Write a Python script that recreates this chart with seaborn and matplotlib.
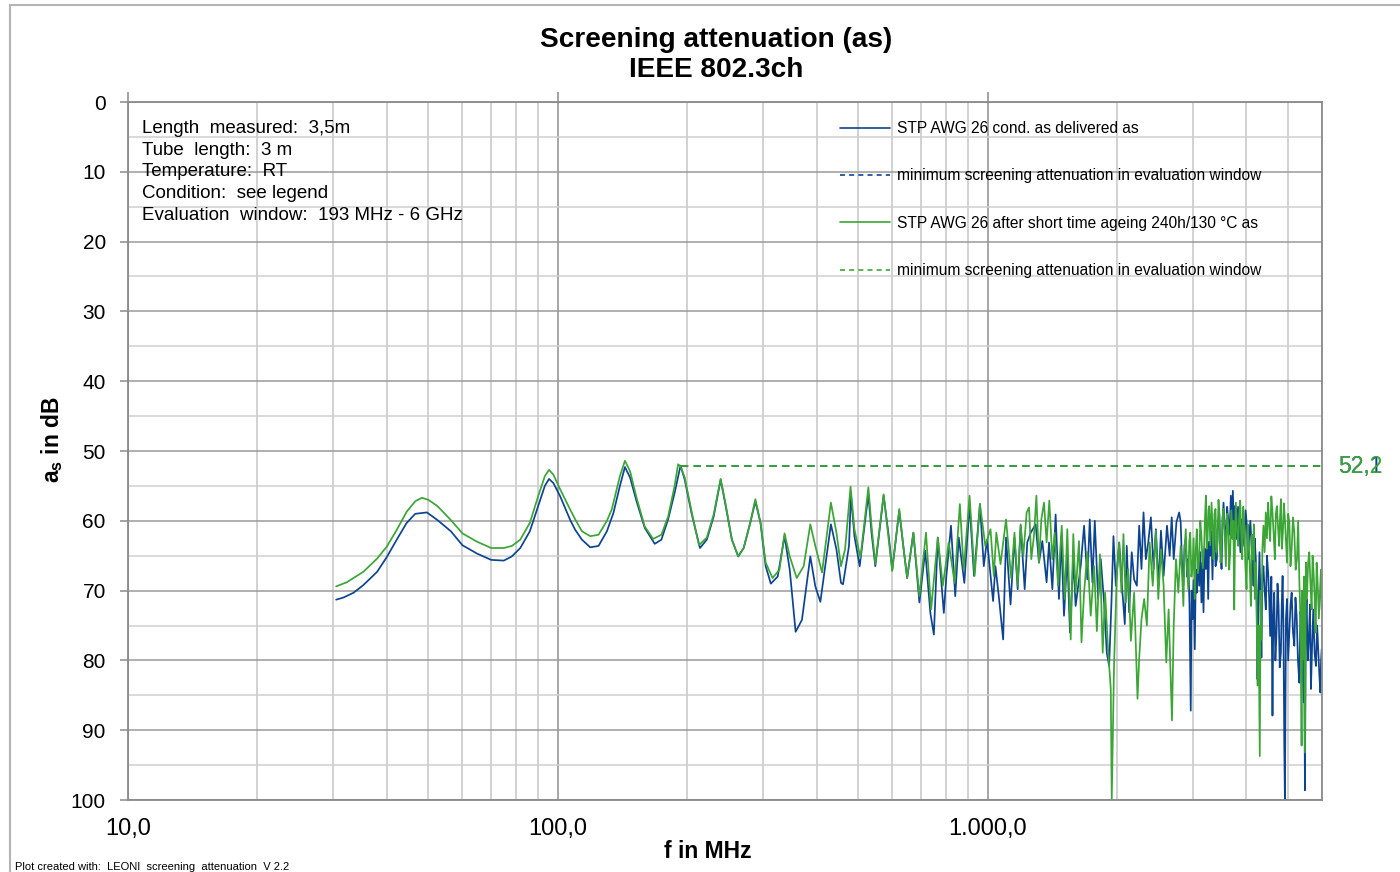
import matplotlib
matplotlib.use("Agg")
import matplotlib.pyplot as plt
from matplotlib import font_manager
from matplotlib.lines import Line2D
from matplotlib.patches import Rectangle
from matplotlib.ticker import FixedLocator, FuncFormatter, NullFormatter
import matplotlib.transforms as mtransforms
import pandas as pd
import seaborn as sns

# ---------------------------------------------------------------- data
TITLE = "Screening attenuation (as)\nIEEE 802.3ch"
X_LABEL = "f in MHz"
INFO_LINES = [
    "Length  measured:  3,5m",
    "Tube  length:  3 m",
    "Temperature:  RT",
    "Condition:  see legend",
    "Evaluation  window:  193 MHz - 6 GHz",
]
FOOTER = "Plot created with:  LEONI  screening  attenuation  V 2.2"

SERIES = ["STP AWG 26 cond. as delivered as",
          "STP AWG 26 after short time ageing 240h/130 °C as"]
MIN_LABEL = "minimum screening attenuation in evaluation window"

EVAL_WINDOW = [193.0, 6000.0]          # MHz
BLUE_MIN = 52.1                        # dB, delivered
GREEN_MIN = 52.2                       # dB, aged

X_MAJOR = [10, 100, 1000]
X_MINOR = [20, 30, 40, 50, 60, 70, 80, 90,
           200, 300, 400, 500, 600, 700, 800, 900,
           2000, 3000, 4000, 5000, 6000]
Y_MAJOR = [0, 10, 20, 30, 40, 50, 60, 70, 80, 90, 100]
Y_MINOR = [5, 15, 25, 35, 45, 55, 65, 75, 85, 95]

# as delivered: frequency (MHz) / screening attenuation (dB)
BLUE_F = [
    30.5, 31.7, 33.5, 35.3, 38.0, 40.0, 42.2, 44.5, 46.6, 49.6,
    52.5, 56.4, 60.0, 64.9, 70.0, 74.9, 78.2, 81.8, 86.1, 90.0,
    93.3, 95.4, 97.7, 101.3, 106.9, 109.8, 113.8, 119.0, 124.4, 130.1,
    134.7, 139.5, 143.3, 147.3, 152.5, 159.3, 168.1, 174.2, 180.6, 187.0,
    193.0, 197.4, 204.7, 214.2, 222.2, 230.5, 239.3, 245.9, 254.1, 262.9,
    270.7, 280.4, 288.2, 296.3, 304.6, 313.1, 324.8, 337.0, 346.5, 357.6,
    369.9, 386.9, 397.4, 408.3, 432, 445, 456, 461, 476, 481,
    490, 504, 528, 537, 548, 573, 589, 600, 623, 638,
    650, 672, 694, 716, 736, 750, 766, 791, 802, 822,
    841, 857, 883, 908, 930, 960, 980, 997, 1030, 1043,
    1062, 1087, 1104, 1131, 1155, 1175, 1194, 1220, 1237, 1260,
    1294, 1317, 1341, 1372, 1390, 1415, 1440, 1466, 1484, 1506,
    1533, 1555, 1583, 1603, 1647, 1677, 1707, 1729, 1754, 1776,
    1808, 1834, 1867, 1894, 1918, 1942, 1963, 1988, 2024, 2060,
    2086, 2108, 2135, 2165, 2193, 2225, 2253, 2281, 2306, 2335,
    2365, 2399, 2434, 2464, 2500, 2532, 2568, 2615, 2653, 2682,
    2711, 2751, 2791,
    2814, 2834, 2855, 2873, 2892, 2911, 2930, 2950, 2970, 2984,
    2997, 3016, 3035, 3052, 3068, 3088, 3107, 3126, 3145, 3162,
    3180, 3200, 3221, 3241, 3261, 3278, 3296, 3316, 3337, 3352,
    3367, 3392, 3416, 3438, 3459, 3481, 3503, 3522, 3540, 3562,
    3585, 3608, 3631, 3656, 3682, 3702, 3722, 3742, 3762, 3782,
    3802, 3826, 3851, 3875, 3899, 3927, 3955, 3984, 4012, 4037,
    4062, 4088, 4113, 4135, 4157, 4183, 4209, 4228, 4246, 4270,
    4292, 4315, 4337, 4360, 4384, 4412, 4440, 4468, 4496, 4520,
    4545, 4574, 4602, 4622, 4644, 4674, 4703, 4728, 4754, 4784,
    4814, 4836, 4858, 4880, 4902, 4919, 4946, 4974, 5005, 5037,
    5068, 5100, 5136, 5173, 5205, 5238, 5275, 5313, 5346, 5379,
    5408, 5437, 5456, 5476, 5500, 5525, 5560, 5594, 5625, 5655,
    5690, 5726, 5768, 5809, 5846, 5883, 5915, 5947, 5970, 5990,
]
BLUE_DB = [
    71.3, 71.0, 70.3, 69.2, 67.3, 65.2, 62.7, 60.3, 59.0, 58.8,
    59.9, 61.5, 63.5, 64.7, 65.6, 65.7, 65.1, 63.9, 61.5, 57.9,
    55.0, 54.0, 54.6, 56.5, 59.9, 61.3, 62.7, 63.8, 63.6, 61.5,
    58.9, 55.0, 52.3, 53.8, 57.2, 61.0, 63.3, 62.7, 59.8, 56.0,
    52.1, 54.1, 58.9, 63.9, 62.7, 59.4, 54.1, 57.9, 62.7, 65.1,
    63.9, 60.3, 57.2, 60.3, 66.5, 69.0, 68.0, 62.2, 67.0, 75.9,
    74.2, 65.1, 69.4, 71.6, 60.5, 64.1, 68.9, 69.1, 63.6, 56.2,
    62.2, 66.5, 56.2, 61.7, 66.5, 56.4, 62.2, 67.0, 58.6, 64.1,
    68.2, 61.7, 71.7, 64.3, 73.2, 76.3, 62.4, 73.2, 67.9, 60.7,
    70.8, 62.4, 68.9, 57.6, 67.9, 57.6, 66.5, 62.7, 71.5, 66.5,
    70.8, 77.0, 62.4, 72.0, 62.4, 69.8, 60.7, 69.8, 63.1, 61.7,
    60.5, 66.0, 62.9, 68.8, 63.1, 69.8, 59.1, 71.2, 62.2, 73.6,
    65.0, 76.0, 65.5, 72.2, 66.5, 60.7, 68.4, 59.8, 68.8, 60.0,
    71.2, 65.5, 71.7, 78.9, 80.8, 71.7, 62.2, 69.3, 63.1, 70.3,
    74.8, 63.6, 73.1, 64.5, 68.4, 69.3, 60.7, 66.9, 58.8, 65.5,
    63.1, 59.5, 66.9, 61.2, 69.3, 61.4, 67.9, 60.7, 65.0, 59.5,
    65.5, 60.2, 58.8,
    60.2, 66.0, 69.3, 63.5, 62.6, 68.0, 65.5, 72.0, 87.2, 70.0,
    74.1, 68.5, 78.4, 67.0, 70.3, 65.0, 69.3, 64.5, 71.7, 66.0,
    73.1, 64.0, 66.9, 62.5, 71.2, 63.0, 65.0, 61.5, 68.4, 63.0,
    60.7, 66.5, 65.5, 60.0, 58.8, 64.0, 66.9, 60.0, 57.4, 61.0,
    63.1, 58.0, 59.8, 62.0, 56.4, 60.5, 55.7, 61.0, 57.9, 60.0,
    62.6, 58.0, 60.7, 64.5, 59.8, 61.5, 63.6, 58.5, 60.7, 65.5,
    62.2, 60.0, 63.6, 66.0, 69.3, 62.5, 65.5, 72.0, 82.7, 70.0,
    64.5, 71.0, 79.6, 68.0, 66.5, 70.0, 72.7, 65.0, 67.4, 71.0,
    76.5, 68.0, 87.9, 74.0, 70.3, 80.0, 76.0, 69.0, 72.2, 81.0,
    78.9, 72.0, 67.9, 75.0, 92.2, 100.0, 74.0, 71.2, 80.0, 76.0,
    72.0, 70.3, 76.0, 77.9, 71.0, 73.6, 80.0, 83.2, 73.0, 76.0,
    81.0, 86.0, 80.0, 98.6, 75.0, 71.2, 80.0, 76.5, 72.0, 84.1,
    78.0, 72.7, 79.0, 80.8, 75.0, 78.9, 82.0, 84.6, 80.0, 78.4,
]

# after ageing: frequency (MHz) / screening attenuation (dB)
GREEN_F = [
    30.5, 32.3, 35.3, 38.0, 40.0, 42.2, 44.5, 46.6, 48.3, 50.0,
    52.5, 56.4, 60.0, 64.9, 70.0, 74.9, 78.2, 81.8, 86.1, 90.0,
    93.3, 95.4, 97.7, 101.3, 106.9, 109.8, 113.8, 119.0, 124.4, 130.1,
    133.5, 139.5, 143.3, 147.3, 152.5, 159.3, 166.6, 174.2, 180.6, 187.0,
    190.5, 193.0, 197.4, 204.7, 213.0, 222.2, 230.5, 239.3, 245.9, 254.1,
    262.9, 270.7, 280.4, 288.2, 296.3, 304.6, 316.0, 328.0, 337.0, 346.5,
    359.7, 373.4, 386.9, 397.4, 412.0, 432, 445, 456, 466, 480,
    490, 506, 528, 537, 548, 573, 589, 600, 623, 638,
    650, 672, 694, 719, 739, 766, 787, 812, 838, 862,
    880, 908, 933, 960, 988, 1016, 1034, 1048, 1072, 1104,
    1135, 1155, 1175, 1194, 1211, 1233, 1249, 1264, 1282, 1299,
    1317, 1334, 1353, 1372, 1392, 1415, 1433, 1459, 1488, 1512,
    1533, 1561, 1583, 1603, 1632, 1654, 1677, 1707, 1738, 1770,
    1796, 1826, 1853, 1877, 1907, 1935, 1945, 1969, 1998, 2024,
    2049, 2071, 2097, 2124, 2155, 2193, 2233, 2253, 2281, 2314,
    2348, 2383, 2423, 2464, 2496, 2532, 2568, 2605, 2638, 2686,
    2711, 2744, 2779,
    2814, 2832, 2855, 2873, 2892, 2910, 2930, 2946, 2962, 2980,
    2997, 3016, 3035, 3052, 3068, 3088, 3107, 3126, 3145, 3168,
    3191, 3206, 3221, 3236, 3250, 3264, 3278, 3298, 3320, 3338,
    3355, 3372, 3391, 3410, 3428, 3446, 3465, 3484, 3503, 3521,
    3540, 3562, 3585, 3608, 3631, 3650, 3669, 3692, 3715, 3732,
    3749, 3766, 3782, 3806, 3830, 3850, 3871, 3892, 3913, 3934,
    3955, 3980, 4005, 4030, 4055, 4076, 4098, 4120, 4142, 4164,
    4186, 4216, 4246, 4272, 4299, 4318, 4337, 4360, 4384, 4412,
    4440, 4468, 4496, 4520, 4545, 4574, 4602, 4632, 4661, 4686,
    4712, 4742, 4771, 4792, 4814, 4840, 4866, 4892, 4919, 4946,
    4974, 5005, 5037, 5068, 5100, 5136, 5173, 5210, 5247, 5280,
    5313, 5346, 5379, 5398, 5418, 5446, 5476, 5505, 5535, 5570,
    5604, 5640, 5675, 5705, 5736, 5768, 5799, 5830, 5862, 5900,
    5937, 5965, 5990,
]
GREEN_DB = [
    69.4, 68.8, 67.3, 65.4, 63.7, 61.3, 58.7, 57.2, 56.7, 57.0,
    57.9, 59.9, 61.8, 63.0, 63.9, 63.9, 63.6, 62.7, 60.3, 56.5,
    53.6, 52.7, 53.4, 55.5, 58.4, 59.8, 61.5, 62.2, 62.0, 60.0,
    58.4, 53.6, 51.4, 52.9, 56.7, 60.8, 62.6, 62.0, 59.4, 55.0,
    51.9, 52.2, 53.8, 58.6, 63.5, 62.4, 59.1, 54.0, 57.7, 62.7,
    65.1, 63.9, 60.3, 56.9, 60.3, 66.0, 68.2, 67.0, 61.8, 65.1,
    68.2, 66.5, 60.5, 63.6, 67.4, 57.4, 61.7, 66.5, 64.1, 55.1,
    61.2, 65.3, 55.2, 60.7, 66.2, 56.2, 62.7, 67.2, 58.3, 64.1,
    68.2, 61.7, 70.8, 61.7, 72.7, 62.4, 69.3, 63.1, 68.9, 57.6,
    67.0, 56.4, 67.9, 57.6, 63.6, 61.2, 67.9, 61.7, 66.2, 59.8,
    68.2, 61.7, 69.3, 60.5, 65.0, 58.8, 58.1, 65.5, 62.2, 56.4,
    66.0, 59.8, 57.4, 63.1, 57.1, 65.5, 61.7, 69.3, 60.7, 71.2,
    61.2, 77.0, 61.9, 70.3, 62.9, 77.4, 70.3, 64.5, 73.6, 66.5,
    75.8, 64.8, 78.9, 70.3, 78.4, 84.1, 100.0, 80.8, 67.9, 63.1,
    70.3, 61.9, 71.7, 66.9, 77.2, 70.3, 85.5, 79.8, 74.1, 71.2,
    75.0, 63.1, 69.3, 61.4, 71.2, 64.1, 69.3, 80.3, 72.7, 88.6,
    75.0, 65.5, 70.3,
    63.6, 67.0, 72.2, 64.0, 61.2, 66.5, 69.8, 63.0, 61.7, 68.0,
    66.9, 62.5, 71.2, 64.0, 61.2, 67.5, 65.5, 60.0, 62.2, 66.8,
    63.6, 59.5, 56.4, 64.0, 62.9, 58.5, 57.9, 63.5, 57.4, 61.0,
    65.5, 59.0, 58.3, 64.5, 62.9, 57.0, 59.3, 66.0, 64.1, 59.5,
    58.3, 62.0, 66.5, 59.0, 60.7, 67.0, 64.5, 58.5, 62.6, 60.0,
    72.7, 62.0, 57.4, 61.5, 63.6, 59.5, 57.1, 62.0, 65.5, 58.0,
    60.7, 66.5, 69.8, 60.5, 63.6, 67.0, 72.2, 62.0, 65.5, 60.5,
    71.2, 66.0, 83.6, 75.0, 93.7, 70.0, 77.0, 64.0, 60.7, 64.5,
    58.8, 62.5, 57.4, 60.5, 62.9, 56.5, 58.8, 62.0, 65.5, 59.0,
    57.9, 61.0, 63.6, 59.5, 56.9, 64.0, 61.7, 57.5, 59.8, 63.0,
    66.0, 59.0, 60.2, 66.5, 64.1, 59.5, 61.7, 67.0, 65.5, 60.0,
    68.4, 74.0, 92.2, 70.0, 79.8, 68.0, 93.2, 66.0, 71.2, 66.0,
    64.5, 69.0, 72.7, 65.0, 67.4, 71.0, 76.0, 66.0, 68.9, 74.0,
    69.8, 67.0, 72.7,
]

BLUE = "#0D4492"
GREEN = "#3BA535"


def de_number(v, _pos=None):
    """German number format with thousands dot and one decimal."""
    s = f"{v:,.1f}"
    return s.replace(",", "X").replace(".", ",").replace("X", ".")


# ---------------------------------------------------------------- style
sns.set_theme(style="white")
names = {f.name for f in font_manager.fontManager.ttflist}
SANS = "Liberation Sans" if "Liberation Sans" in names else "DejaVu Sans"
plt.rcParams["font.family"] = [SANS, "DejaVu Sans"]
plt.rcParams["mathtext.fontset"] = "custom"
plt.rcParams["mathtext.bf"] = f"{SANS}:bold"
plt.rcParams["mathtext.rm"] = SANS
plt.rcParams["text.color"] = "black"
plt.rcParams["axes.labelcolor"] = "black"

df = pd.concat([
    pd.DataFrame({"f": BLUE_F, "a": BLUE_DB, "series": SERIES[0]}),
    pd.DataFrame({"f": GREEN_F, "a": GREEN_DB, "series": SERIES[1]}),
], ignore_index=True)

fig = plt.figure(figsize=(14, 8.72), dpi=100)
ax = fig.add_axes([128 / 1400, 72 / 872, 1194 / 1400, 698 / 872])
ax.set_xscale("log")

sns.lineplot(data=df, x="f", y="a", hue="series",
             palette={SERIES[0]: BLUE, SERIES[1]: GREEN},
             estimator=None, sort=True, lw=1.25, legend=False, ax=ax)

# minimum lines over the evaluation window
ax.plot(EVAL_WINDOW, [BLUE_MIN, BLUE_MIN], color=BLUE, lw=1.3, ls=(0, (4, 3)))
ax.plot(EVAL_WINDOW, [GREEN_MIN, GREEN_MIN], color=GREEN, lw=1.3, ls=(0, (4, 3)))

ax.set_xlim(10, 6000)
ax.set_ylim(100, 0)

# grid
ax.xaxis.set_major_locator(FixedLocator(X_MAJOR))
ax.xaxis.set_minor_locator(FixedLocator(X_MINOR))
ax.xaxis.set_major_formatter(FuncFormatter(de_number))
ax.xaxis.set_minor_formatter(NullFormatter())
ax.yaxis.set_major_locator(FixedLocator(Y_MAJOR))
ax.yaxis.set_minor_locator(FixedLocator(Y_MINOR))
ax.grid(which="major", axis="x", color="#8e8e8e", lw=1.1)
ax.grid(which="minor", axis="x", color="#c6c6c6", lw=1.1)
ax.grid(which="major", axis="y", color="#9a9a9a", lw=1.1)
ax.grid(which="minor", axis="y", color="#d0d0d0", lw=1.1)
ax.set_axisbelow(True)

for sp in ax.spines.values():
    sp.set_color("#8a8a8a")
    sp.set_linewidth(1.3)

ax.tick_params(axis="x", which="major", top=True, bottom=False,
               labeltop=False, labelbottom=True, direction="out",
               length=7, width=1.1, color="#8a8a8a", pad=6,
               labelsize=17, labelcolor="black")
ax.tick_params(axis="x", which="minor", length=0, top=False, bottom=False)
ax.tick_params(axis="y", which="major", left=True, direction="out",
               length=6, width=1.1, color="#8a8a8a", pad=10,
               labelsize=15, labelcolor="black")
ax.tick_params(axis="y", which="minor", length=0, left=False)

ax.set_xlabel(X_LABEL, fontsize=16.5, fontweight="bold", va="center")
ax.xaxis.set_label_coords(580 / 1194, -51 / 698)
ax.set_ylabel(r"a$_{\mathbf{s}}$ in dB", fontsize=16.5, fontweight="bold",
              va="center", ha="center")
ax.yaxis.set_label_coords(-76 / 1194, 360 / 698)

# legend
handles = [
    Line2D([], [], color=BLUE, lw=1.2),
    Line2D([], [], color=BLUE, lw=1.2, ls=(0, (3, 2.5))),
    Line2D([], [], color=GREEN, lw=1.2),
    Line2D([], [], color=GREEN, lw=1.2, ls=(0, (3, 2.5))),
]
labels = [SERIES[0], MIN_LABEL, SERIES[1], MIN_LABEL]
ax.legend(handles, labels, loc="upper left",
          bbox_to_anchor=(840 / 1400, 1 - 121 / 872),
          bbox_transform=fig.transFigure, frameon=False, fontsize=11.2,
          handlelength=3.2, handletextpad=0.45, labelspacing=2.08,
          borderpad=0, borderaxespad=0)

# minimum value labels at the right border
trans = mtransforms.blended_transform_factory(ax.transAxes, ax.transData)
ax.text(1210.5 / 1194, BLUE_MIN + 0.05, de_number(BLUE_MIN),
        transform=trans, color=BLUE, fontsize=16.5,
        ha="left", va="center", clip_on=False, zorder=5)
ax.text(1210 / 1194, GREEN_MIN, de_number(GREEN_MIN),
        transform=trans, color=GREEN, fontsize=16.5,
        ha="left", va="center", clip_on=False, zorder=6)

# measurement information
ax.text(14 / 1194, 1 - 18 / 698, "\n".join(INFO_LINES), transform=ax.transAxes,
        fontsize=13.5, ha="left", va="top", linespacing=1.36)

# title and footer
fig.text(716 / 1400, 1 - 55 / 872, TITLE, ha="center", va="center",
         fontsize=20.2, fontweight="bold", linespacing=1.24)
fig.text(15 / 1400, 5 / 872, FOOTER, ha="left", va="center", fontsize=8)

# outer chart border
fig.add_artist(Rectangle((10 / 1400, -0.1), 1.2, 0.1 + 867 / 872,
                         transform=fig.transFigure, fill=False,
                         edgecolor="#b4b4b4", lw=1.5))

fig.savefig("out.png", dpi=100)
